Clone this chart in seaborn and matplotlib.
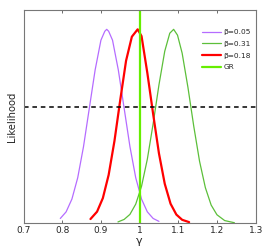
import seaborn as sns
import matplotlib.pyplot as plt
import pandas as pd

# beta = 0.05 curve
x_b005 = [0.795, 0.81, 0.825, 0.84, 0.855, 0.87, 0.885, 0.90, 0.91, 0.915, 0.92,
          0.93, 0.945, 0.96, 0.975, 0.99, 1.005, 1.02, 1.035, 1.05]
y_b005 = [0.024, 0.058, 0.124, 0.234, 0.395, 0.593, 0.79, 0.944, 0.99, 1.0, 0.99,
          0.944, 0.79, 0.593, 0.395, 0.234, 0.124, 0.058, 0.024, 0.009]

# beta = 0.31 curve
x_b031 = [0.944, 0.96, 0.975, 0.99, 1.005, 1.02, 1.035, 1.05, 1.065, 1.078, 1.088,
          1.098, 1.11, 1.125, 1.14, 1.155, 1.17, 1.185, 1.2, 1.22, 1.245]
y_b031 = [0.006, 0.019, 0.045, 0.098, 0.19, 0.33, 0.513, 0.713, 0.887, 0.98, 1.0,
          0.97, 0.877, 0.70, 0.50, 0.319, 0.183, 0.093, 0.043, 0.013, 0.002]

# beta = 0.18 curve
x_b018 = [0.873, 0.89, 0.905, 0.92, 0.935, 0.95, 0.965, 0.98, 0.995, 1.005,
          1.02, 1.035, 1.05, 1.065, 1.08, 1.095, 1.11, 1.128]
y_b018 = [0.021, 0.059, 0.129, 0.249, 0.424, 0.636, 0.838, 0.962, 1.0, 0.965,
          0.775, 0.563, 0.36, 0.203, 0.1, 0.044, 0.017, 0.005]

gr_value = 1.0
threshold = 0.6

labels = ['β=0.05', 'β=0.31', 'β=0.18']
colors = ['#b56cff', '#5cbf3a', '#ff0000']
widths = [0.9, 0.9, 1.6]

df = pd.concat([
    pd.DataFrame({'gamma': x_b005, 'L': y_b005, 'beta': labels[0]}),
    pd.DataFrame({'gamma': x_b031, 'L': y_b031, 'beta': labels[1]}),
    pd.DataFrame({'gamma': x_b018, 'L': y_b018, 'beta': labels[2]}),
])

sns.set_style('white')
fig, ax = plt.subplots(figsize=(2.74, 2.49), dpi=100)
plt.subplots_adjust(left=0.086, right=0.933, bottom=0.104, top=0.96)

for lab, c, w in zip(labels, colors, widths):
    sub = df[df['beta'] == lab]
    sns.lineplot(data=sub, x='gamma', y='L', color=c, lw=w, label=lab, ax=ax, sort=False)

ax.axvline(gr_value, color='#66ee00', lw=1.6, label='GR')
ax.axhline(threshold, color='black', lw=1.1, ls=(0, (3, 2.5)))

ax.set_xlim(0.7, 1.3)
ax.set_ylim(0, 1.1)
ax.set_xticks([0.7, 0.8, 0.9, 1.0, 1.1, 1.2, 1.3])
ax.set_xticklabels(['0.7', '0.8', '0.9', '1', '1.1', '1.2', '1.3'], fontsize=6.5)
ax.set_yticks([])
ax.tick_params(axis='x', direction='in', length=2.5, width=0.6, color='#555555', pad=2,
               top=True, bottom=True)
ax.set_xlabel('γ', fontsize=8, labelpad=1)
ax.set_ylabel('Likelihood', fontsize=7.2, labelpad=5)
for s in ax.spines.values():
    s.set_color('#777777')
    s.set_linewidth(0.8)

leg = ax.legend(loc='upper left', bbox_to_anchor=(0.77, 0.91), fontsize=5.3,
                frameon=False, handlelength=2.6, handletextpad=0.3,
                labelspacing=0.75, borderaxespad=0, borderpad=0)

plt.savefig('out.png', dpi=100)
